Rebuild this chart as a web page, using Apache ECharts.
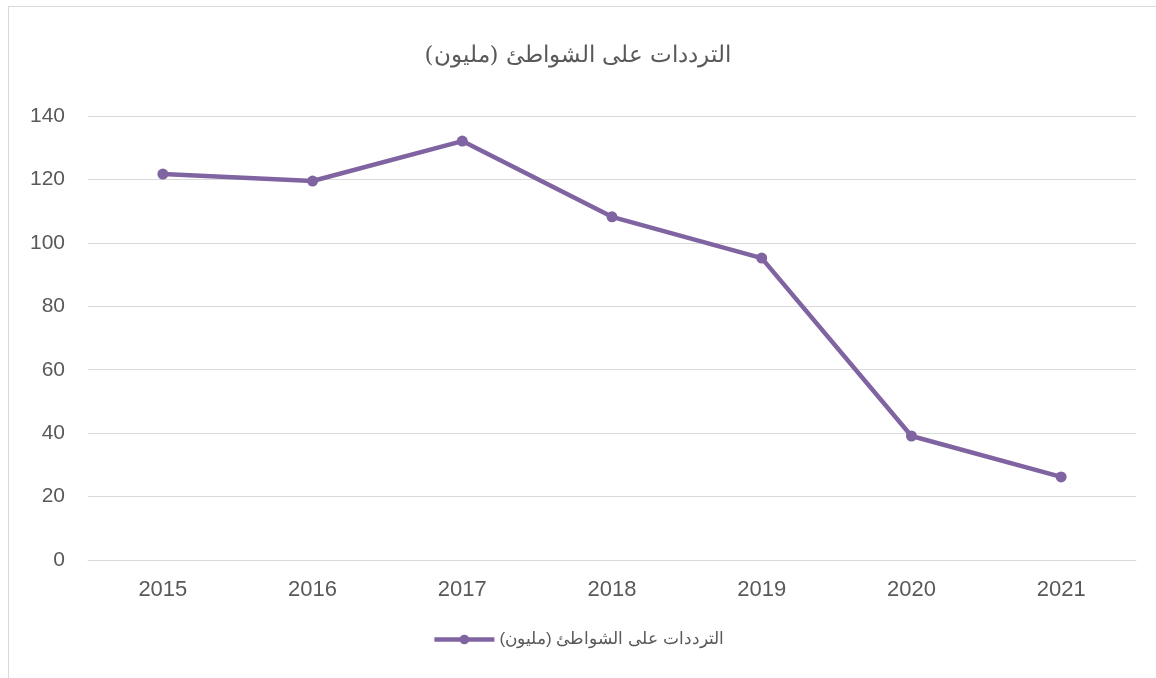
<!DOCTYPE html>
<html><head><meta charset="utf-8">
<script src="https://cdn.jsdelivr.net/npm/echarts@6/dist/echarts.min.js"></script>
<style>
html,body{margin:0;padding:0;background:#fff;overflow:hidden;}
#frame{position:absolute;left:8px;top:6px;width:1160px;height:690px;border:1px solid #d9d9d9;box-sizing:border-box;}
#c{position:absolute;left:0;top:0;width:1156px;height:678px;}
</style></head>
<body>
<div id="frame"></div>
<div id="c"></div>
<script>
const categories = ['2015','2016','2017','2018','2019','2020','2021'];
const seriesName = 'الترددات على الشواطئ (مليون)';
const values = [121.7, 119.5, 132.1, 108.2, 95.2, 39.1, 26.2];
const chart = echarts.init(document.getElementById('c'));
chart.setOption({
  backgroundColor: 'transparent',
  title: { text: seriesName, left: 'center', top: 40,
    textStyle: { fontFamily: '"DejaVu Serif", serif', fontSize: 23, fontWeight: 'normal', color: '#595959' } },
  legend: { bottom: 25, left: 'center', itemWidth: 60, itemHeight: 12, itemGap: 6,
    textStyle: { fontSize: 17, color: '#595959' },
    lineStyle: { width: 4.5 },
    data: [{ name: seriesName }] },
  grid: { left: 88, right: 20, top: 116, bottom: 118, containLabel: false },
  xAxis: { type: 'category', data: categories, boundaryGap: true,
    axisLine: { lineStyle: { color: '#d9d9d9' } }, axisTick: { show: false },
    axisLabel: { color: '#595959', fontSize: 22, margin: 19, fontFamily: 'Liberation Sans, Arial' } },
  yAxis: { type: 'value', min: 0, max: 140, interval: 20,
    axisLine: { show: false }, axisTick: { show: false },
    axisLabel: { color: '#595959', fontSize: 21, margin: 23, fontFamily: 'Liberation Sans, Arial' },
    splitLine: { lineStyle: { color: '#d9d9d9', width: 1 } } },
  series: [{ name: seriesName, type: 'line', data: values,
    lineStyle: { color: '#8064a2', width: 4.5 }, itemStyle: { color: '#8064a2' },
    symbol: 'circle', symbolSize: 11, animation: false }]
});
</script>
</body></html>
